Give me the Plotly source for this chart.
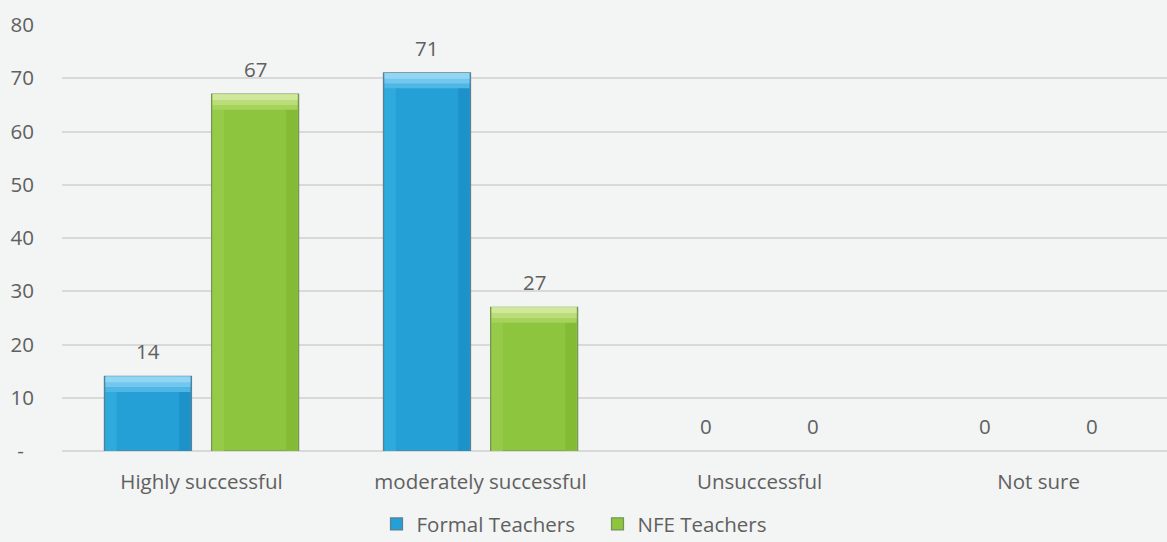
import plotly.graph_objects as go

categories = ["Highly successful", "moderately successful", "Unsuccessful", "Not sure"]
formal_teachers = [14, 71, 0, 0]
nfe_teachers = [67, 27, 0, 0]
y_tick_values = [0, 10, 20, 30, 40, 50, 60, 70, 80]
y_tick_labels = ["-\u2002", "10", "20", "30", "40", "50", "60", "70", "80"]

FONT = "Open Sans, Segoe UI, sans-serif"
FONT_SIZE = 20.5
TEXT_COLOR = "#606060"

# bar geometry in category units
BAR_W = 0.312
PAIR_GAP = 0.072
EDGE_W = 0.04      # width of the side bevel strips
TOP_DEPTH = 2.9    # height of the top bevel, in value units

series = [
    dict(name="Formal Teachers", values=formal_teachers, offset=-(BAR_W + PAIR_GAP / 2),
         body="#24a0d6", outline="#5f7f90", left="#2eaadd", right="#1c92c8",
         top=["#4fb6e5", "#72c7ee", "#93d6f4"]),
    dict(name="NFE Teachers", values=nfe_teachers, offset=PAIR_GAP / 2,
         body="#8dc53e", outline="#76925a", left="#96cb4a", right="#84bb36",
         top=["#a6d35c", "#badd79", "#cfe89b"]),
]

fig = go.Figure()

for s in series:
    vals = s["values"]
    shown = [v if v > 0 else None for v in vals]
    # main body of each bar
    fig.add_trace(go.Bar(
        x=categories, y=vals, name=s["name"], width=BAR_W, offset=s["offset"],
        marker=dict(color=s["body"],
                    line=dict(color=s["outline"], width=[1.2 if v > 0 else 0 for v in vals])),
        hoverinfo="skip",
    ))
    # side bevels
    fig.add_trace(go.Bar(
        x=categories, y=shown, width=EDGE_W, offset=s["offset"] + 0.004,
        marker=dict(color=s["left"], line=dict(width=0)), showlegend=False, hoverinfo="skip",
    ))
    fig.add_trace(go.Bar(
        x=categories, y=shown, width=EDGE_W, offset=s["offset"] + BAR_W - EDGE_W - 0.004,
        marker=dict(color=s["right"], line=dict(width=0)), showlegend=False, hoverinfo="skip",
    ))
    # stepped lighter strips along the top edge
    for k, shade in enumerate(s["top"]):
        depth = TOP_DEPTH - k * 0.9
        fig.add_trace(go.Bar(
            x=categories,
            y=[depth if v > 0 else None for v in vals],
            base=[v - depth if v > 0 else None for v in vals],
            width=BAR_W - 0.008, offset=s["offset"] + 0.004,
            marker=dict(color=shade, line=dict(width=0)),
            showlegend=False, hoverinfo="skip",
        ))

annotations = []
for s in series:
    for i, v in enumerate(s["values"]):
        annotations.append(dict(
            x=i + s["offset"] + BAR_W / 2, y=v, xref="x", yref="y",
            text=str(v), showarrow=False, yanchor="middle", yshift=25,
            font=dict(family=FONT, size=FONT_SIZE, color=TEXT_COLOR),
        ))

fig.update_layout(
    width=1167, height=542,
    margin=dict(l=62, r=0, t=25, b=91, autoexpand=False),
    barmode="overlay",
    paper_bgcolor="#f3f4f4", plot_bgcolor="#f3f4f4",
    font=dict(family=FONT, size=FONT_SIZE, color=TEXT_COLOR),
    showlegend=True,
    legend=dict(
        orientation="h", xref="container", x=0.512, xanchor="center",
        yref="container", y=0.033, yanchor="middle",
        font=dict(family=FONT, size=FONT_SIZE, color=TEXT_COLOR),
        traceorder="normal", bgcolor="rgba(0,0,0,0)", itemwidth=30,
        entrywidth=176, entrywidthmode="pixels",
    ),
    annotations=annotations,
)

fig.update_xaxes(
    range=[-0.5, 3.46], showgrid=False, showline=False, ticks="",
    tickangle=0, automargin=False, ticklabelstandoff=16,
    tickfont=dict(family=FONT, size=FONT_SIZE, color=TEXT_COLOR),
)
fig.update_yaxes(
    range=[0, 80], tickvals=y_tick_values, ticktext=y_tick_labels,
    showgrid=True, gridcolor="#d9d9d9", gridwidth=2,
    zeroline=True, zerolinecolor="#d9d9d9", zerolinewidth=2,
    showline=False, ticks="", ticklabelstandoff=27, automargin=False,
    tickfont=dict(family=FONT, size=FONT_SIZE, color=TEXT_COLOR),
)

fig.write_html("out.html")
